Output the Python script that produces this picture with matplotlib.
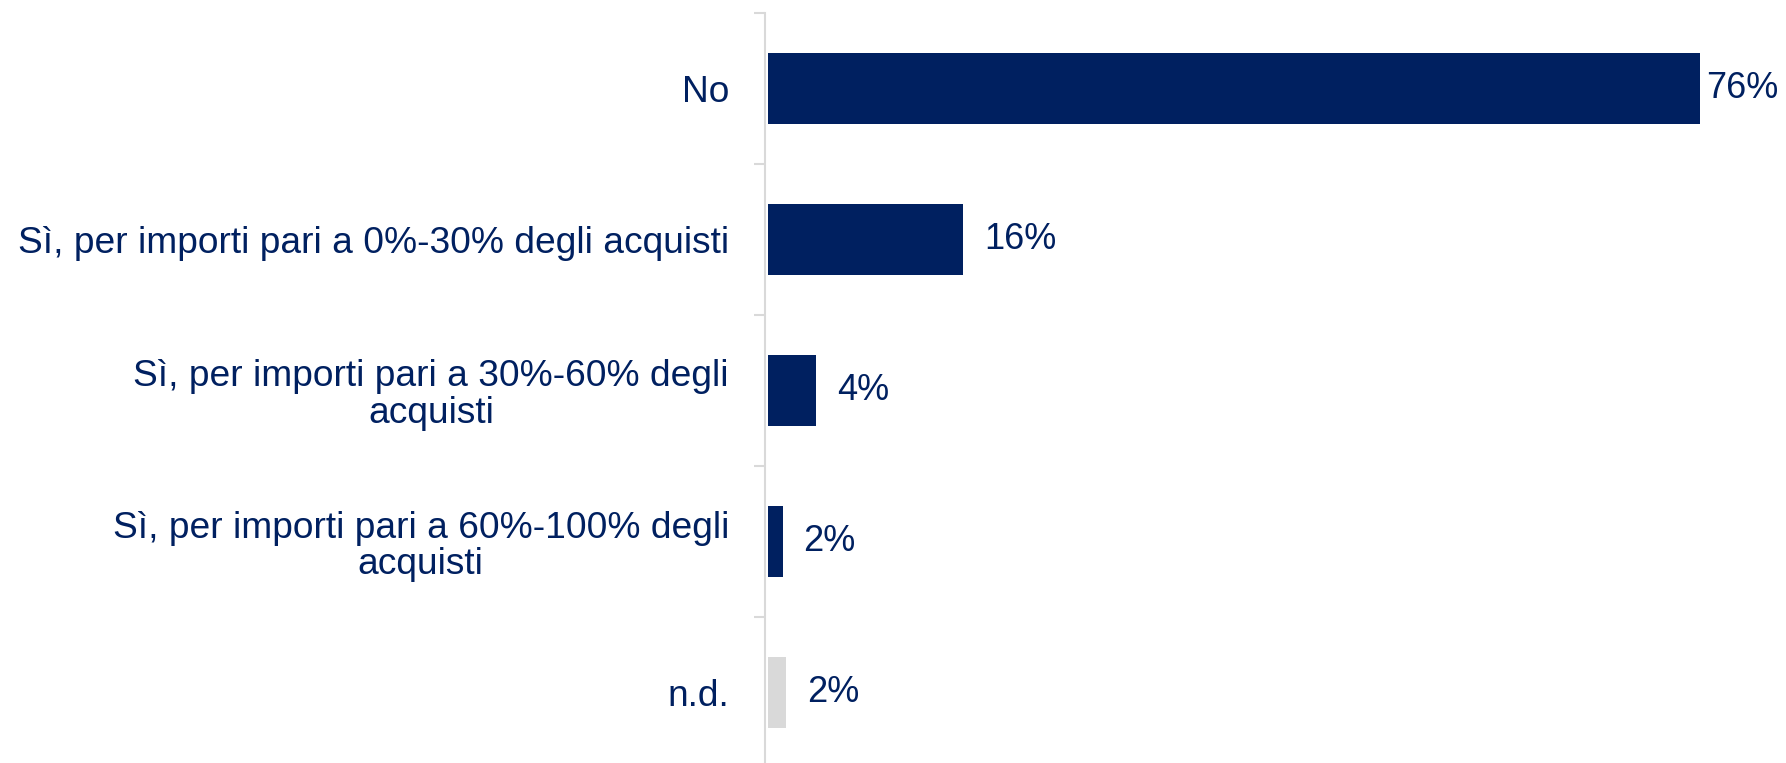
import matplotlib.pyplot as plt

categories = [
    "No",
    "Sì, per importi pari a 0%-30% degli acquisti",
    "Sì, per importi pari a 30%-60% degli\nacquisti",
    "Sì, per importi pari a 60%-100% degli\nacquisti",
    "n.d.",
]
values = [76.0, 15.9, 3.9, 1.2, 1.5]
labels = ["76%", "16%", "4%", "2%", "2%"]
colors = ["#002060", "#002060", "#002060", "#002060", "#D9D9D9"]

navy = "#002060"
plt.rcParams['font.family'] = ['Liberation Sans', 'DejaVu Sans']

fig = plt.figure(figsize=(17.86, 7.63), dpi=100)
ax = fig.add_axes([765 / 1786, -5 / 763, 1021 / 1786, 755 / 763])

y = list(range(len(categories)))
ax.barh(y, values, height=0.47, color=colors, left=0.25)
ax.set_ylim(4.5, -0.5)
ax.set_xlim(0, 83.3)

# etichette dei valori
for i, (v, lab) in enumerate(zip(values, labels)):
    off = 0.5 if i == 0 else 1.7
    ax.text(v + 0.25 + off, i, lab, va='center', ha='left', fontsize=26, color=navy)

ax.set_yticks(y)
ax.set_yticklabels(categories, fontsize=26.7, color=navy, linespacing=1.07,
                   multialignment='center')
ax.set_yticks([i + 0.5 for i in range(-1, 5)], minor=True)
ax.tick_params(axis='y', which='major', length=0, pad=26)
ax.tick_params(axis='y', which='minor', length=8, width=1.5, color="#D9D9D9")
ax.set_xticks([])

for s in ['top', 'right', 'bottom']:
    ax.spines[s].set_visible(False)
ax.spines['left'].set_color("#D9D9D9")
ax.spines['left'].set_linewidth(1.5)

fig.savefig("out.png", dpi=100)
